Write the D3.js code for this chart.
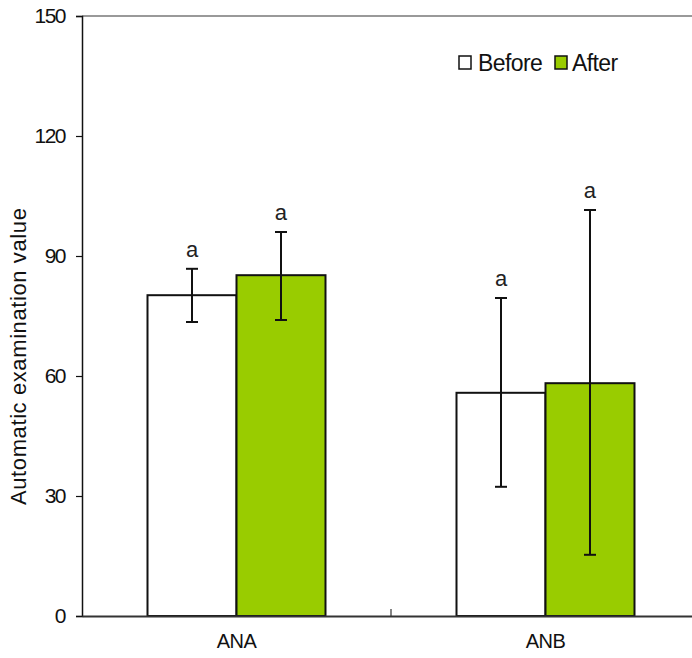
<!DOCTYPE html>
<html><head><meta charset="utf-8">
<script src="https://cdn.jsdelivr.net/npm/d3@7"></script>
<style>body{margin:0;background:#fff}svg{display:block}text{font-family:"Liberation Sans",Arial,sans-serif}</style>
</head><body>
<svg id="c" width="692" height="658"></svg>
<script>
const categories = ["ANA", "ANB"];
const seriesNames = ["Before", "After"];
const beforeValues = [80.2, 55.8];
const afterValues = [85.2, 58.2];
const beforeErrLow = [73.5, 32.3];
const beforeErrHigh = [86.8, 79.5];
const afterErrLow = [74.0, 15.3];
const afterErrHigh = [96.0, 101.5];
const sigLetters = [["a","a"],["a","a"]];
const yTicks = [0, 30, 60, 90, 120, 150];
const colors = ["#ffffff", "#99cc00"];

(function(){
const svg = d3.select("#c");
const mL = 82, mT = 16, mB = 616, mR = 700;
const y = d3.scaleLinear().domain([0,150]).range([mB, mT]);
const x = d3.scaleBand().domain(categories).range([mL, mR]);
const inner = d3.scaleBand().domain(seriesNames).range([0, x.bandwidth()]).paddingInner(0).paddingOuter(0.736);

const series = [
  {name:"Before", vals:beforeValues, lo:beforeErrLow, hi:beforeErrHigh},
  {name:"After", vals:afterValues, lo:afterErrLow, hi:afterErrHigh}
];

svg.append("line").attr("x1", mL).attr("x2", 692).attr("y1", mT).attr("y2", mT)
  .attr("stroke", "#777").attr("stroke-width", 1.5);

series.forEach((s, si) => {
  categories.forEach((c, ci) => {
    const bx = x(c) + inner(s.name);
    svg.append("rect").attr("x", bx).attr("y", y(s.vals[ci]))
      .attr("width", inner.bandwidth()).attr("height", y(0) - y(s.vals[ci]))
      .attr("fill", colors[si]).attr("stroke", "#111").attr("stroke-width", 2);
  });
});
series.forEach((s, si) => {
  categories.forEach((c, ci) => {
    const cx = x(c) + inner(s.name) + inner.bandwidth()/2;
    const g = svg.append("g").attr("stroke", "#111").attr("stroke-width", 2);
    g.append("line").attr("x1", cx).attr("x2", cx).attr("y1", y(s.lo[ci])).attr("y2", y(s.hi[ci]));
    g.append("line").attr("x1", cx-6).attr("x2", cx+6).attr("y1", y(s.hi[ci])).attr("y2", y(s.hi[ci]));
    g.append("line").attr("x1", cx-6).attr("x2", cx+6).attr("y1", y(s.lo[ci])).attr("y2", y(s.lo[ci]));
    svg.append("text").attr("x", cx).attr("y", y(s.hi[ci]) - 12)
      .attr("text-anchor", "middle").attr("font-size", 22).attr("fill", "#222")
      .text(sigLetters[ci][si]);
  });
});

const yAxis = svg.append("g").attr("transform", `translate(${mL},0)`)
  .call(d3.axisLeft(y).tickValues(yTicks).tickSize(6).tickPadding(11));
yAxis.select(".domain").attr("stroke", "#111").attr("stroke-width", 1.5);
yAxis.selectAll(".tick line").attr("stroke", "#111").attr("stroke-width", 1.2);
yAxis.selectAll("text").attr("font-size", 21).attr("fill", "#111").style("letter-spacing", "-1.5px")
  .style("font-family", '"Liberation Sans",Arial,sans-serif');

const xAxis = svg.append("g").attr("transform", `translate(0,${mB})`)
  .call(d3.axisBottom(x).tickSize(0).tickPadding(18));
xAxis.select(".domain").attr("stroke", "#333").attr("stroke-width", 2);
xAxis.selectAll("text").attr("font-size", 20).attr("fill", "#111").style("letter-spacing", "-0.5px")
  .style("font-family", '"Liberation Sans",Arial,sans-serif');
svg.append("line").attr("x1", x("ANB")).attr("x2", x("ANB")).attr("y1", mB).attr("y2", mB-7)
  .attr("stroke", "#333").attr("stroke-width", 1.2);

svg.append("text").attr("transform", `translate(26,505) rotate(-90)`)
  .attr("text-anchor", "start").attr("font-size", 22).attr("fill", "#111")
  .style("letter-spacing", "0.6px")
  .text("Automatic examination value");

const lg = svg.append("g");
const legendPos = [{sx:459, tx:478}, {sx:555, tx:572}];
seriesNames.forEach((n, i) => {
  lg.append("rect").attr("x", legendPos[i].sx).attr("y", 56).attr("width", 12).attr("height", 13)
    .attr("fill", colors[i]).attr("stroke", "#111").attr("stroke-width", 1.5);
  lg.append("text").attr("x", legendPos[i].tx).attr("y", 71).attr("font-size", 23)
    .attr("fill", "#111").style("letter-spacing", "-0.6px").text(n);
});
})();
</script>
</body></html>
